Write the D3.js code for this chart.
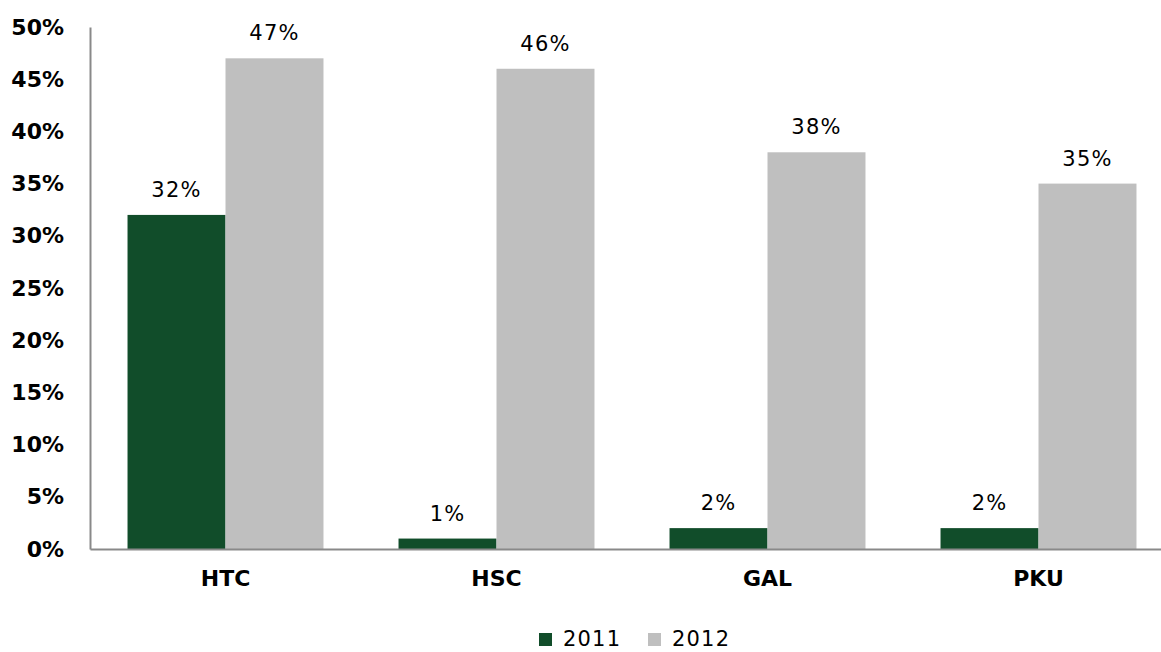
<!DOCTYPE html>
<html>
<head>
<meta charset="utf-8">
<script src="https://cdn.jsdelivr.net/npm/d3@7"></script>
<style>
  body { margin: 0; background: #fff; }
  svg { display: block; }
  svg text { font-family: "DejaVu Sans", Verdana, sans-serif; }
</style>
</head>
<body>
<div id="chart"></div>
<script>
// chart values
const categories = ["HTC", "HSC", "GAL", "PKU"];
const years = ["2011", "2012"];
const values2011 = [32, 1, 2, 2];
const values2012 = [47, 46, 38, 35];
const yTicks = [0, 5, 10, 15, 20, 25, 30, 35, 40, 45, 50];

const colors = { "2011": "#114d2a", "2012": "#bfbfbf" };

const svgWidth = 1161;
const svgHeight = 652;

// plot area
const plot = { left: 90, right: 1174, top: 27, bottom: 549 };

const svg = d3.select("#chart")
  .append("svg")
  .attr("width", svgWidth)
  .attr("height", svgHeight);

const x0 = d3.scaleBand()
  .domain(categories)
  .range([plot.left, plot.right])
  .padding(0);

const x1 = d3.scaleBand()
  .domain(years)
  .range([0, x0.bandwidth()])
  .paddingInner(0)
  .paddingOuter(0.383);

const y = d3.scaleLinear()
  .domain([0, 50])
  .range([plot.bottom, plot.top]);

const rows = categories.map((c, i) => ({
  cat: c,
  vals: [
    { year: "2011", v: values2011[i] },
    { year: "2012", v: values2012[i] }
  ]
}));

// bars
const groups = svg.selectAll("g.cat")
  .data(rows)
  .enter()
  .append("g")
  .attr("class", "cat")
  .attr("transform", d => `translate(${x0(d.cat)},0)`);

groups.selectAll("rect")
  .data(d => d.vals)
  .enter()
  .append("rect")
  .attr("x", d => x1(d.year))
  .attr("y", d => y(d.v))
  .attr("width", x1.bandwidth())
  .attr("height", d => y(0) - y(d.v))
  .attr("fill", d => colors[d.year]);

// value labels
groups.selectAll("text.val")
  .data(d => d.vals)
  .enter()
  .append("text")
  .attr("class", "val")
  .attr("x", d => x1(d.year) + x1.bandwidth() / 2)
  .attr("y", d => y(d.v) - 18)
  .attr("text-anchor", "middle")
  .style("font-size", "21px")
  .style("letter-spacing", "1.2px")
  .attr("fill", "#000")
  .text(d => d.v + "%");

// y axis
const yAxis = d3.axisLeft(y)
  .tickValues(yTicks)
  .tickSize(0)
  .tickPadding(26)
  .tickFormat(d => d + "%");

const yg = svg.append("g")
  .attr("transform", `translate(${plot.left},0)`)
  .call(yAxis);
yg.select(".domain").attr("stroke", "#898989").attr("stroke-width", 2);
yg.selectAll("text")
  .style("font-size", "22px")
  .style("font-weight", "bold")
  .attr("fill", "#000");

// x axis
const xAxis = d3.axisBottom(x0)
  .tickSize(0)
  .tickPadding(21);

const xg = svg.append("g")
  .attr("transform", `translate(0,${plot.bottom})`)
  .call(xAxis);
xg.select(".domain").attr("stroke", "#898989").attr("stroke-width", 2);
xg.selectAll("text")
  .style("font-size", "22px")
  .style("font-weight", "bold")
  .attr("fill", "#000");

// legend
const legendX = [539, 648];
const legend = svg.selectAll("g.legend")
  .data(years)
  .enter()
  .append("g")
  .attr("class", "legend")
  .attr("transform", (d, i) => `translate(${legendX[i]},633)`);

legend.append("rect")
  .attr("width", 13)
  .attr("height", 13)
  .attr("fill", d => colors[d]);

legend.append("text")
  .attr("x", 24)
  .attr("y", 13)
  .style("font-size", "21px")
  .style("letter-spacing", "1.2px")
  .attr("fill", "#000")
  .text(d => d);
</script>
</body>
</html>
